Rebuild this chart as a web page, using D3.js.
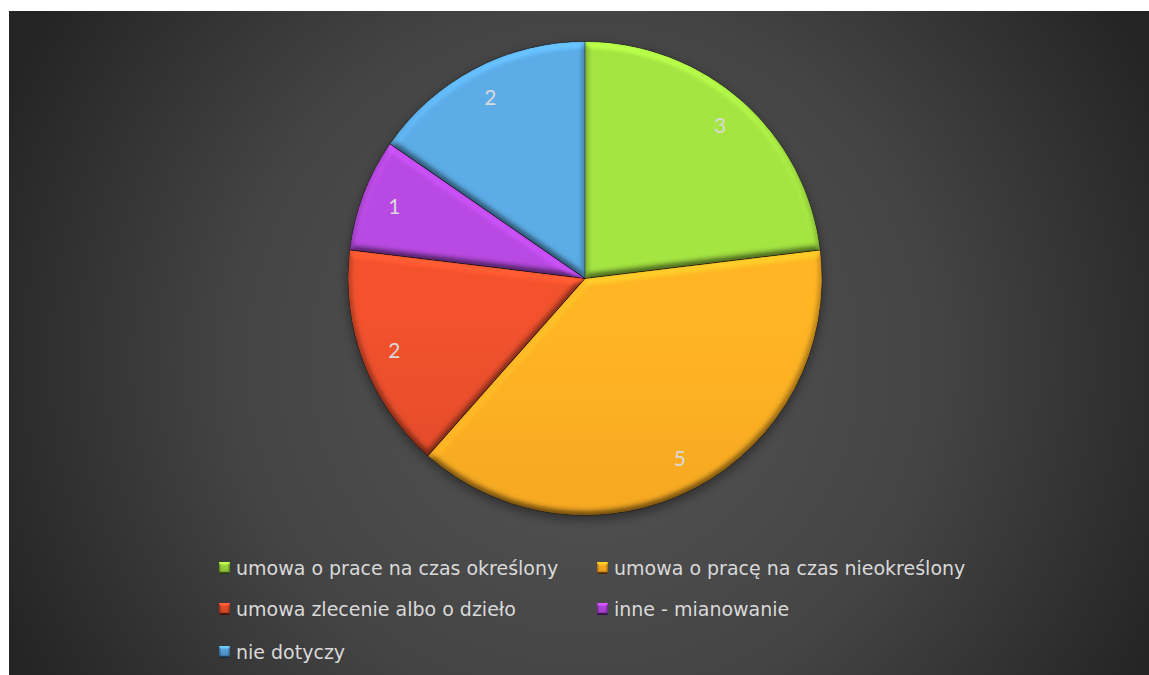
<!DOCTYPE html>
<html><head><meta charset="utf-8">
<script src="https://cdn.jsdelivr.net/npm/d3@7"></script>
<style>html,body{margin:0;padding:0;background:#fff;overflow:hidden}</style>
</head><body>
<svg id="chart" width="1149" height="675"></svg>
<script>
const categories = ["umowa o prace na czas określony","umowa o pracę na czas nieokreślony","umowa zlecenie albo o dzieło","inne - mianowanie","nie dotyczy"];
const values = [3,5,2,1,2];
const colorsTop = ["#a4e442","#ffb524","#f2522d","#b84ae2","#5cade6"];
const colorsBottom = ["#82b52f","#e6951d","#c23e25","#9638bd","#4483ba"];

const W = 1149, H = 675;
const svg = d3.select("#chart");
const defs = svg.append("defs");

const bg = defs.append("radialGradient").attr("id","bg").attr("gradientUnits","userSpaceOnUse")
  .attr("cx",585).attr("cy",360).attr("r",640);
bg.append("stop").attr("offset","0").attr("stop-color","#555555");
bg.append("stop").attr("offset","0.55").attr("stop-color","#444444");
bg.append("stop").attr("offset","1").attr("stop-color","#242424");

svg.append("rect").attr("x",9).attr("y",11).attr("width",W-9).attr("height",H-11).attr("fill","url(#bg)");

const cx = 585, cy = 278.5, R = 237;

colorsTop.forEach((c,i)=>{
  const g = defs.append("linearGradient").attr("id","sg"+i).attr("gradientUnits","userSpaceOnUse")
    .attr("x1",0).attr("y1",cy-R).attr("x2",0).attr("y2",cy+R);
  g.append("stop").attr("offset","0").attr("stop-color",c);
  g.append("stop").attr("offset","1").attr("stop-color",colorsBottom[i]);
  const lg = defs.append("linearGradient").attr("id","lg"+i).attr("x1",0).attr("y1",0).attr("x2",0).attr("y2",1);
  lg.append("stop").attr("offset","0").attr("stop-color",c);
  lg.append("stop").attr("offset","1").attr("stop-color",colorsBottom[i]);
});

function bevel(id, blur, scale, elev, k1, k2){
  const f = defs.append("filter").attr("id",id).attr("x","-10%").attr("y","-10%").attr("width","120%").attr("height","120%")
    .attr("color-interpolation-filters","sRGB");
  f.append("feGaussianBlur").attr("in","SourceAlpha").attr("stdDeviation",blur).attr("result","b");
  const dl = f.append("feDiffuseLighting").attr("in","b").attr("surfaceScale",scale)
    .attr("diffuseConstant",(0.5/Math.sin(elev*Math.PI/180)).toFixed(4)).attr("lighting-color","#ffffff").attr("result","d");
  dl.append("feDistantLight").attr("azimuth",270).attr("elevation",elev);
  f.append("feComposite").attr("in","SourceGraphic").attr("in2","d").attr("operator","arithmetic")
    .attr("k1",k1).attr("k2",k2).attr("k3",0).attr("k4",0).attr("result","lit");
  f.append("feComposite").attr("in","lit").attr("in2","SourceAlpha").attr("operator","in");
}
bevel("bev",3.5,5,55,1.2,0.4);
bevel("bevs",1.2,2.5,50,1.4,0.3);

const shadow = defs.append("filter").attr("id","shadow").attr("x","-20%").attr("y","-20%").attr("width","140%").attr("height","140%");
shadow.append("feGaussianBlur").attr("stdDeviation",5);

const pie = d3.pie().sort(null).value(d=>d)(values);
const arc = d3.arc().innerRadius(0).outerRadius(R);
const labelArc = d3.arc().innerRadius(R*0.86).outerRadius(R*0.86);

const g = svg.append("g").attr("transform",`translate(${cx},${cy})`);
g.append("circle").attr("cx",0).attr("cy",4).attr("r",R+1).attr("fill","#000").attr("opacity",0.35).attr("filter","url(#shadow)");

g.selectAll("path.slice").data(pie).join("path").attr("class","slice")
  .attr("d",arc)
  .attr("fill",(d,i)=>`url(#sg${i})`)
  .attr("filter","url(#bev)");
g.selectAll("path.edge").data(pie).join("path").attr("class","edge")
  .attr("d",arc).attr("fill","none").attr("stroke","rgba(0,0,0,0.25)").attr("stroke-width",1);

g.selectAll("text.lbl").data(pie).join("text").attr("class","lbl")
  .attr("transform",d=>`translate(${labelArc.centroid(d)})`)
  .attr("text-anchor","middle").attr("dy","0.35em")
  .attr("fill","#d9d9d9").attr("font-family","'URW Gothic','Century Gothic','Lato',sans-serif").attr("font-size",21)
  .text(d=>d.data);

const colX = [219,597], rowY = [568,609,652];
const leg = svg.append("g");
const items = leg.selectAll("g").data(categories).join("g")
  .attr("transform",(d,i)=>`translate(${colX[i%2]},${rowY[Math.floor(i/2)]})`);
items.append("rect").attr("x",0).attr("y",-6).attr("width",11).attr("height",12)
  .attr("fill",(d,i)=>`url(#lg${i})`).attr("filter","url(#bevs)");
items.append("text").attr("x",17).attr("y",0).attr("dy","0.35em")
  .attr("fill","#d9d9d9").attr("font-family","'DejaVu Sans',sans-serif").attr("font-size",19)
  .text(d=>d);
</script>
</body></html>
